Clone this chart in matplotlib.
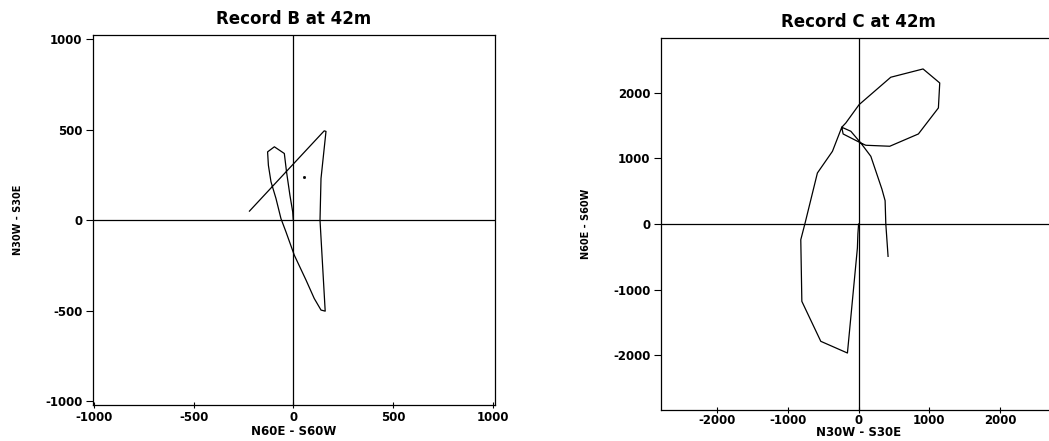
import matplotlib
matplotlib.use("Agg")
import matplotlib.pyplot as plt

# -----------------------------
# 1. Data (progressive vector paths)
# -----------------------------
b_x = [-220, 155, 164, 139, 134, 144, 160, 139, 105, 64, 5, -37, -62, -87,
       -112, -125, -129, -95, -45, -34, -17, -3, 0]
b_y = [50, 493, 490, 230, 0, -193, -502, -496, -432, -331, -193, -64, 9, 120,
       212, 303, 377, 405, 368, 267, 138, 46, 0]
b_dot = (55, 237)

c_x = [0, -10, -17, -158, -535, -803, -818, -757, -583, -370, -238, -110, 31,
       102, 441, 846, 1129, 1148, 912, 455, 7, -181, -238, -219, 31, 173,
       330, 375, 385, 417]
c_y = [0, -150, -365, -1963, -1785, -1177, -239, 15, 776, 1106, 1472, 1411,
       1233, 1198, 1183, 1370, 1766, 2146, 2359, 2233, 1816, 1537, 1472, 1370,
       1233, 1030, 530, 355, 0, -492]

b_ticks = [-1000, -500, 0, 500, 1000]
c_ticks = [-2000, -1000, 0, 1000, 2000]

plt.rcParams["axes.unicode_minus"] = False
plt.rcParams["font.family"] = "DejaVu Sans"

W, H = 1049, 441
fig = plt.figure(figsize=(W / 100, H / 100), dpi=100)


def px_axes(left, top, right, bottom):
    return fig.add_axes([left / W, 1 - bottom / H, (right - left) / W, (bottom - top) / H])


def style(ax, ticks, xlim, ylim, title, xlabel, ylabel, xpad, xlabelpad):
    ax.set_xlim(*xlim)
    ax.set_ylim(*ylim)
    ax.set_xticks(ticks)
    ax.set_yticks(ticks)
    ax.set_xticklabels([str(t) for t in ticks], fontsize=8.5, fontweight="bold")
    ax.set_yticklabels([str(t) for t in ticks], fontsize=8.5, fontweight="bold")
    ax.tick_params(axis="y", direction="out", length=5, width=0.8, pad=2.5)
    ax.tick_params(axis="x", direction="inout", length=4, width=0.8, pad=xpad)
    ax.axhline(0, color="black", lw=0.9)
    ax.axvline(0, color="black", lw=0.9)
    for s in ax.spines.values():
        s.set_linewidth(0.9)
    ax.set_title(title, fontsize=12, fontweight="bold", pad=8)
    ax.set_xlabel(xlabel, fontsize=8.5, fontweight="bold", labelpad=xlabelpad)
    ax.set_ylabel(ylabel, fontsize=7, fontweight="semibold", labelpad=16)


# -----------------------------
# 2. Record B
# -----------------------------
ax1 = px_axes(93, 35, 495, 405)
style(ax1, b_ticks, (-1005, 1012), (-1020, 1022),
      "Record B at 42m", "N60E - S60W", "N30W - S30E", 2.5, 0.5)
ax1.plot(b_x, b_y, color="black", lw=0.9)
ax1.plot([b_dot[0]], [b_dot[1]], marker="s", ms=1, color="black")

# -----------------------------
# 3. Record C
# -----------------------------
ax2 = px_axes(660.7, 38, 1056.5, 410)
style(ax2, c_ticks, (-2800, 2800), (-2830, 2830),
      "Record C at 42m", "N30W - S30E", "N60E - S60W", 1, -0.5)
ax2.plot(c_x, c_y, color="black", lw=0.9)

fig.savefig("out.png", dpi=100)
